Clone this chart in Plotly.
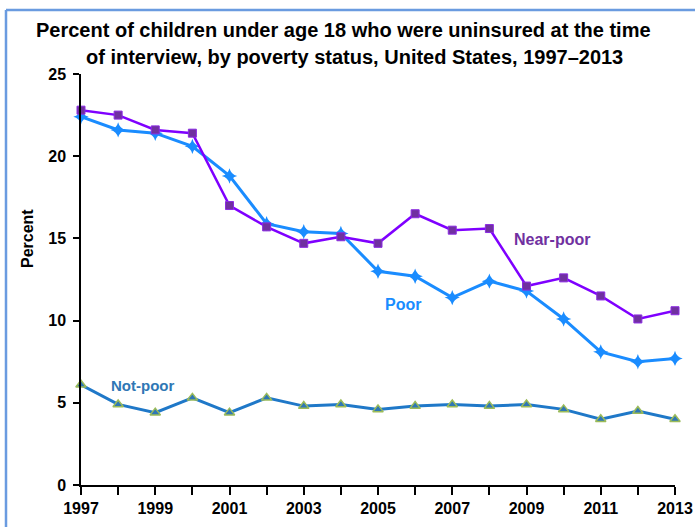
import plotly.graph_objects as go

years = list(range(1997, 2014))
near_poor = [22.8, 22.5, 21.6, 21.4, 17.0, 15.7, 14.7, 15.1, 14.7, 16.5, 15.5, 15.6, 12.1, 12.6, 11.5, 10.1, 10.6]
poor = [22.4, 21.6, 21.4, 20.6, 18.8, 15.9, 15.4, 15.3, 13.0, 12.7, 11.4, 12.4, 11.8, 10.1, 8.1, 7.5, 7.7]
not_poor = [6.1, 4.9, 4.4, 5.3, 4.4, 5.3, 4.8, 4.9, 4.6, 4.8, 4.9, 4.8, 4.9, 4.6, 4.0, 4.5, 4.0]
x_tick_labels = [str(y) if (y - 1997) % 2 == 0 else "" for y in years]
y_ticks = [0, 5, 10, 15, 20, 25]

W, H = 695, 527
ML, MR, MT, MB = 81, 20, 74, 42
PW, PH = W - ML - MR, H - MT - MB

def px(x):
    return (x - ML) / PW

def py(y):
    return (H - MB - y) / PH

FONT = "Liberation Sans, Arial, sans-serif"

fig = go.Figure()
fig.add_trace(go.Scatter(
    x=years, y=not_poor, mode="lines+markers", name="Not-poor",
    line=dict(color="#1f78c8", width=3),
    marker=dict(symbol="triangle-up", size=9, color="#2f77b5",
                line=dict(color="#9bbb59", width=1.5)),
    cliponaxis=False))
fig.add_trace(go.Scatter(
    x=years, y=poor, mode="lines+markers", name="Poor",
    line=dict(color="#1a8cff", width=3),
    marker=dict(symbol="star-diamond", size=11, color="#1a8cff"),
    cliponaxis=False))
fig.add_trace(go.Scatter(
    x=years, y=near_poor, mode="lines+markers", name="Near-poor",
    line=dict(color="#7f00ff", width=2.5),
    marker=dict(symbol="square", size=8, color="#7030a0",
                line=dict(color="#8b2be2", width=1)),
    cliponaxis=False))

fig.update_layout(
    width=W, height=H,
    margin=dict(l=ML, r=MR, t=MT, b=MB, autoexpand=False),
    paper_bgcolor="white", plot_bgcolor="white",
    showlegend=False,
    font=dict(family=FONT, color="black"),
)
fig.update_xaxes(
    range=[1997, 2013], tickvals=years, ticktext=x_tick_labels,
    showgrid=False, zeroline=False, showline=True, linecolor="black", linewidth=1.5,
    ticks="outside", ticklen=8, tickwidth=1.5, tickcolor="black",
    tickfont=dict(family=FONT, size=16, color="black", weight="bold"),
)
fig.update_yaxes(
    range=[0, 25], tickvals=y_ticks,
    showgrid=False, zeroline=False, showline=True, linecolor="black", linewidth=1.5,
    ticks="outside", ticklen=6, tickwidth=1.5, tickcolor="black",
    ticklabelstandoff=4,
    tickfont=dict(family=FONT, size=16, color="black", weight="bold"),
)

ann = []
ann.append(dict(text="<b>Percent of children under age 18 who were uninsured at the time</b>",
                x=px(343), y=py(30), xref="paper", yref="paper", showarrow=False,
                xanchor="center", yanchor="middle", font=dict(size=20, family=FONT, color="black")))
ann.append(dict(text="<b>of interview, by poverty status, United States, 1997\u20132013</b>",
                x=px(354), y=py(57), xref="paper", yref="paper", showarrow=False,
                xanchor="center", yanchor="middle", font=dict(size=20, family=FONT, color="black")))
ann.append(dict(text="<b>Percent</b>", x=px(28), y=py(239), xref="paper", yref="paper",
                showarrow=False, textangle=-90, xanchor="center", yanchor="middle",
                font=dict(size=16, family=FONT, color="black")))
ann.append(dict(text="<b>Near-poor</b>", x=2009.69, y=14.96, showarrow=False,
                xanchor="center", yanchor="middle", font=dict(size=16, family=FONT, color="#7030a0")))
ann.append(dict(text="<b>Poor</b>", x=2005.66, y=11.01, showarrow=False,
                xanchor="center", yanchor="middle", font=dict(size=16, family=FONT, color="#1a8cff")))
ann.append(dict(text="<b>Not-poor</b>", x=1998.65, y=6.08, showarrow=False,
                xanchor="center", yanchor="middle", font=dict(size=15, family=FONT, color="#2f77b5")))
fig.update_layout(annotations=ann)

# outer frame (left and top edges)
fig.add_shape(type="line", xref="paper", yref="paper",
              x0=px(6), y0=py(H + 5), x1=px(6), y1=py(10),
              line=dict(color="#6a9be0", width=2.5))
fig.add_shape(type="line", xref="paper", yref="paper",
              x0=px(6), y0=py(10), x1=px(W + 5), y1=py(10),
              line=dict(color="#6a9be0", width=2.5))

fig.write_html("out.html", config={"displayModeBar": False},
               post_script="document.body.style.margin='0';document.body.style.overflow='hidden';")
